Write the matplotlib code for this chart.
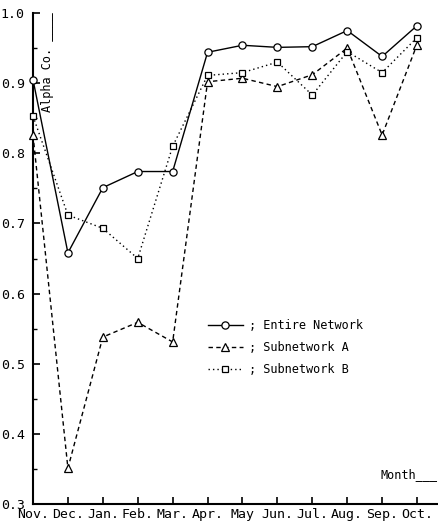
import numpy as np
import matplotlib
matplotlib.use("Agg")
import matplotlib.pyplot as plt

# months along x axis
months = ["Nov.", "Dec.", "Jan.", "Feb.", "Mar.", "Apr.", "May", "Jun.", "Jul.", "Aug.", "Sep.", "Oct."]

# alpha coefficient per month
entire_network = [0.905, 0.658, 0.751, 0.774, 0.774, 0.944, 0.954, 0.951, 0.952, 0.975, 0.938, 0.982]
subnetwork_a = [0.826, 0.351, 0.538, 0.559, 0.531, 0.902, 0.907, 0.895, 0.912, 0.950, 0.826, 0.955]
subnetwork_b = [0.853, 0.712, 0.693, 0.650, 0.810, 0.911, 0.915, 0.930, 0.883, 0.945, 0.915, 0.965]

y_ticks = [0.3, 0.4, 0.5, 0.6, 0.7, 0.8, 0.9, 1.0]

plt.rcParams['font.family'] = ['DejaVu Sans Mono']

fig = plt.figure(figsize=(4.38, 5.28), dpi=100)
ax = fig.add_axes([33 / 438, 24 / 528, 405 / 438, 491 / 528])

x = np.arange(len(months))

# the three series
ax.plot(x, entire_network, color='black', lw=1.0, ls='-', marker='o', ms=5.2,
        mfc='white', mec='black', mew=0.9, clip_on=False, zorder=4,
        label='; Entire Network')
ax.plot(x, subnetwork_a, color='black', lw=1.0, ls=(0, (3.2, 2.4)), marker='^', ms=6,
        mfc='white', mec='black', mew=0.9, clip_on=False, zorder=3,
        label='; Subnetwork A')
ax.plot(x, subnetwork_b, color='black', lw=1.0, ls=(0, (1, 2.2)), marker='s', ms=4.6,
        mfc='white', mec='black', mew=0.9, clip_on=False, zorder=3,
        label='; Subnetwork B')

# axes limits and ticks
ax.set_xlim(0, 11.6)
ax.set_ylim(0.3, 1.0)
ax.set_xticks(x)
ax.set_xticklabels(months, fontsize=9.5)
ax.set_yticks(y_ticks)
ax.set_yticklabels(["%.1f" % v for v in y_ticks], fontsize=9.5)
ax.set_yticks(np.arange(0.35, 1.0, 0.1), minor=True)
ax.tick_params(axis='both', which='major', direction='in', length=5, width=1.2, colors='black')
ax.tick_params(axis='y', which='major', pad=6)
ax.tick_params(axis='x', which='major', pad=3)
ax.tick_params(axis='y', which='minor', direction='in', length=3, width=1.0)

for side in ['top', 'right']:
    ax.spines[side].set_visible(False)
for side in ['left', 'bottom']:
    ax.spines[side].set_linewidth(1.5)

# axis captions
ax.text(0.035, 0.798, "Alpha Co. ____", rotation=90, ha='center', va='bottom',
        fontsize=8.6, transform=ax.transAxes)
ax.text(0.859, 0.053, "Month___", ha='left', va='baseline',
        fontsize=8.6, transform=ax.transAxes)

# legend
ax.legend(loc='upper left', bbox_to_anchor=(0.432, 0.377), frameon=False,
          fontsize=8.6, handlelength=2.9, handletextpad=0.5, borderpad=0,
          borderaxespad=0, labelspacing=0.75, numpoints=1)

plt.savefig("out.png", dpi=100)
